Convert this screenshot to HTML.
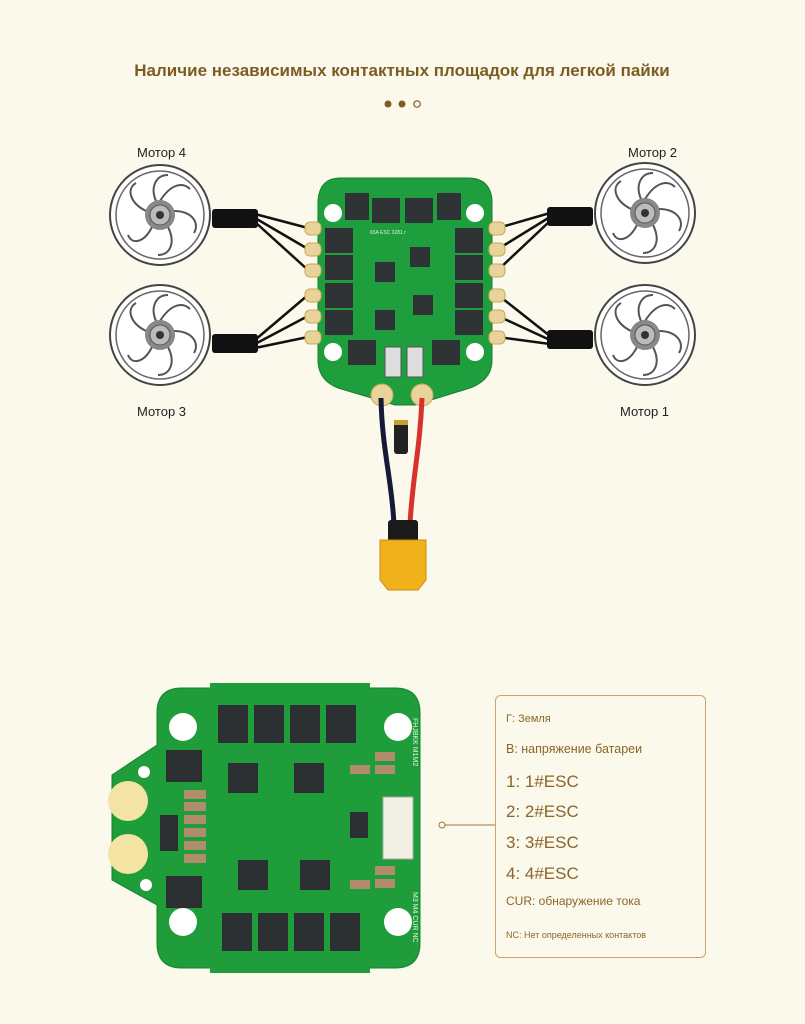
<!DOCTYPE html>
<html><head><meta charset="utf-8"><style>
html,body{margin:0;padding:0;background:#fbf8ec;}
svg{display:block}
text{font-family:"Liberation Sans",sans-serif}
</style></head><body>
<svg width="805" height="1024" viewBox="0 0 805 1024" xmlns="http://www.w3.org/2000/svg">
<rect width="805" height="1024" fill="#fbf8ec"/>
<text x="402" y="76" text-anchor="middle" font-size="17" font-weight="bold" fill="#7d5c22">Наличие независимых контактных площадок для легкой пайки</text>
<circle cx="388" cy="104" r="3.5" fill="#7d5c22"/><circle cx="402" cy="104" r="3.5" fill="#7d5c22"/><circle cx="417" cy="104" r="3.2" fill="none" stroke="#7d5c22" stroke-width="1.2"/>
<text x="137" y="157" font-size="13" fill="#222">Мотор 4</text>
<text x="628" y="157" font-size="13" fill="#222">Мотор 2</text>
<text x="137" y="416" font-size="13" fill="#222">Мотор 3</text>
<text x="620" y="416" font-size="13" fill="#222">Мотор 1</text>
<defs>
<g id="motor">
<circle r="50" fill="#fff" stroke="#444" stroke-width="2"/>
<circle r="44" fill="none" stroke="#666" stroke-width="1.5"/>
<g fill="none" stroke="#555" stroke-width="2">
<path d="M0,-14 C10,-30 22,-34 30,-26"/><path d="M14,-4 C32,-4 40,8 34,18"/><path d="M8,12 C16,28 10,40 -2,40"/><path d="M-8,12 C-16,28 -28,30 -32,20"/><path d="M-14,-4 C-30,-12 -34,-26 -24,-32"/>
<path d="M-4,-14 C-10,-28 -4,-40 8,-40"/>
</g>
<circle r="15" fill="#888"/><circle r="10" fill="#bbb" stroke="#555"/><circle r="4" fill="#333"/>
</g>
</defs>
<use href="#motor" x="160" y="215"/><use href="#motor" x="160" y="335"/>
<use href="#motor" x="645" y="213"/><use href="#motor" x="645" y="335"/>
<g stroke="#111" stroke-width="2.5" fill="none">
<path d="M255,214 L308,228 M255,218 L308,249 M255,222 L308,270"/>
<path d="M255,340 L308,295 M255,344 L308,316 M255,348 L308,337"/>
<path d="M550,213 L498,228 M550,217 L498,249 M550,221 L498,270"/>
<path d="M550,336 L498,295 M550,340 L498,316 M550,344 L498,337"/>
</g>
<rect x="212" y="209" width="46" height="19" rx="3" fill="#111"/>
<rect x="212" y="334" width="46" height="19" rx="3" fill="#111"/>
<rect x="547" y="207" width="46" height="19" rx="3" fill="#111"/>
<rect x="547" y="330" width="46" height="19" rx="3" fill="#111"/>
<!-- top board -->
<path d="M340,178 H468 Q490,178 492,200 V360 Q492,380 470,388 L415,405 H395 L338,388 Q318,380 318,360 V200 Q320,178 340,178 Z" fill="#1e9e3c" stroke="#177f30"/>
<g fill="#e8d49a" stroke="#c9a85a">
<rect x="305" y="222" width="16" height="13" rx="5"/><rect x="305" y="243" width="16" height="13" rx="5"/><rect x="305" y="264" width="16" height="13" rx="5"/><rect x="305" y="289" width="16" height="13" rx="5"/><rect x="305" y="310" width="16" height="13" rx="5"/><rect x="305" y="331" width="16" height="13" rx="5"/>
<rect x="489" y="222" width="16" height="13" rx="5"/><rect x="489" y="243" width="16" height="13" rx="5"/><rect x="489" y="264" width="16" height="13" rx="5"/><rect x="489" y="289" width="16" height="13" rx="5"/><rect x="489" y="310" width="16" height="13" rx="5"/><rect x="489" y="331" width="16" height="13" rx="5"/>
<circle cx="382" cy="395" r="11"/><circle cx="422" cy="395" r="11"/>
</g>
<g fill="#fff"><circle cx="333" cy="213" r="9"/><circle cx="475" cy="213" r="9"/><circle cx="333" cy="352" r="9"/><circle cx="475" cy="352" r="9"/></g>
<g fill="#2f3336">
<rect x="345" y="193" width="24" height="27"/><rect x="372" y="198" width="28" height="25"/><rect x="405" y="198" width="28" height="25"/><rect x="437" y="193" width="24" height="27"/>
<rect x="325" y="228" width="28" height="25"/><rect x="325" y="255" width="28" height="25"/><rect x="325" y="283" width="28" height="25"/><rect x="325" y="310" width="28" height="25"/>
<rect x="455" y="228" width="28" height="25"/><rect x="455" y="255" width="28" height="25"/><rect x="455" y="283" width="28" height="25"/><rect x="455" y="310" width="28" height="25"/>
<rect x="348" y="340" width="28" height="25"/><rect x="432" y="340" width="28" height="25"/>
<rect x="375" y="262" width="20" height="20"/><rect x="410" y="247" width="20" height="20"/><rect x="375" y="310" width="20" height="20"/><rect x="413" y="295" width="20" height="20"/>
</g>
<rect x="385" y="347" width="16" height="30" fill="#ddd" stroke="#555"/><rect x="407" y="347" width="16" height="30" fill="#ddd" stroke="#555"/>
<text x="370" y="234" font-size="5" fill="#e0f0e0">65A ESC 3281 r</text>
<!-- power wires -->
<path d="M381,398 C382,450 392,480 394,525" stroke="#181838" stroke-width="5" fill="none"/>
<path d="M422,398 C420,450 412,480 410,525" stroke="#d8332a" stroke-width="5" fill="none"/>
<rect x="394" y="420" width="14" height="34" rx="3" fill="#222"/><rect x="394" y="420" width="14" height="5" fill="#c8a030"/>
<rect x="388" y="520" width="30" height="22" rx="3" fill="#1a1a1a"/>
<path d="M380,540 H426 V580 L418,590 H388 L380,580 Z" fill="#f0b21a" stroke="#c88a10"/>
<!-- bottom board -->
<path d="M182,688 H395 Q420,688 420,713 V943 Q420,968 395,968 H182 Q157,968 157,943 V905 L112,880 V775 L157,745 V713 Q157,688 182,688 Z" fill="#1f9d3b" stroke="#16802f"/>
<g fill="#1f9d3b"><rect x="210" y="683" width="160" height="8"/><rect x="210" y="965" width="160" height="8"/></g>
<circle cx="128" cy="801" r="20" fill="#f3e4a4"/><circle cx="128" cy="854" r="20" fill="#f3e4a4"/>
<circle cx="144" cy="772" r="6" fill="#fff"/><circle cx="146" cy="885" r="6" fill="#fff"/>
<g fill="#fff"><circle cx="183" cy="727" r="14"/><circle cx="398" cy="727" r="14"/><circle cx="183" cy="922" r="14"/><circle cx="398" cy="922" r="14"/></g>
<g fill="#2d3033">
<rect x="218" y="705" width="30" height="38"/><rect x="254" y="705" width="30" height="38"/><rect x="290" y="705" width="30" height="38"/><rect x="326" y="705" width="30" height="38"/>
<rect x="222" y="913" width="30" height="38"/><rect x="258" y="913" width="30" height="38"/><rect x="294" y="913" width="30" height="38"/><rect x="330" y="913" width="30" height="38"/>
<rect x="166" y="750" width="36" height="32"/><rect x="166" y="876" width="36" height="32"/>
<rect x="228" y="763" width="30" height="30"/><rect x="294" y="763" width="30" height="30"/><rect x="238" y="860" width="30" height="30"/><rect x="300" y="860" width="30" height="30"/>
<rect x="160" y="815" width="18" height="36"/><rect x="350" y="812" width="18" height="26"/>
</g>
<g fill="#b08c6c"><rect x="184" y="790" width="22" height="9"/><rect x="184" y="802" width="22" height="9"/><rect x="184" y="815" width="22" height="9"/><rect x="184" y="828" width="22" height="9"/><rect x="184" y="841" width="22" height="9"/><rect x="184" y="854" width="22" height="9"/>
<rect x="375" y="752" width="20" height="9"/><rect x="375" y="765" width="20" height="9"/><rect x="375" y="866" width="20" height="9"/><rect x="375" y="879" width="20" height="9"/><rect x="350" y="765" width="20" height="9"/><rect x="350" y="880" width="20" height="9"/></g>
<rect x="383" y="797" width="30" height="62" fill="#f2efe4" stroke="#aaa"/>
<text transform="translate(413,718) rotate(90)" font-size="7" fill="#e8f4e8">FHJBKK M1M2</text>
<text transform="translate(413,892) rotate(90)" font-size="7" fill="#e8f4e8">M3 M4 CUR NC</text>
<!-- legend -->
<circle cx="442" cy="825" r="3" fill="none" stroke="#9a7a3a"/>
<line x1="445" y1="825" x2="495" y2="825" stroke="#9a7a3a"/>
<rect x="495.5" y="695.5" width="210" height="262" rx="5" fill="none" stroke="#c9a86a"/>
<g fill="#8a6628">
<text x="506" y="722" font-size="11">Г: Земля</text>
<text x="506" y="753" font-size="12.5">B: напряжение батареи</text>
<text x="506" y="787" font-size="17">1:  1#ESC</text>
<text x="506" y="817" font-size="17">2:  2#ESC</text>
<text x="506" y="848" font-size="17">3:  3#ESC</text>
<text x="506" y="879" font-size="17">4:  4#ESC</text>
<text x="506" y="905" font-size="12">CUR: обнаружение тока</text>
<text x="506" y="938" font-size="9">NC: Нет определенных контактов</text>
</g>
</svg>
</body></html>
